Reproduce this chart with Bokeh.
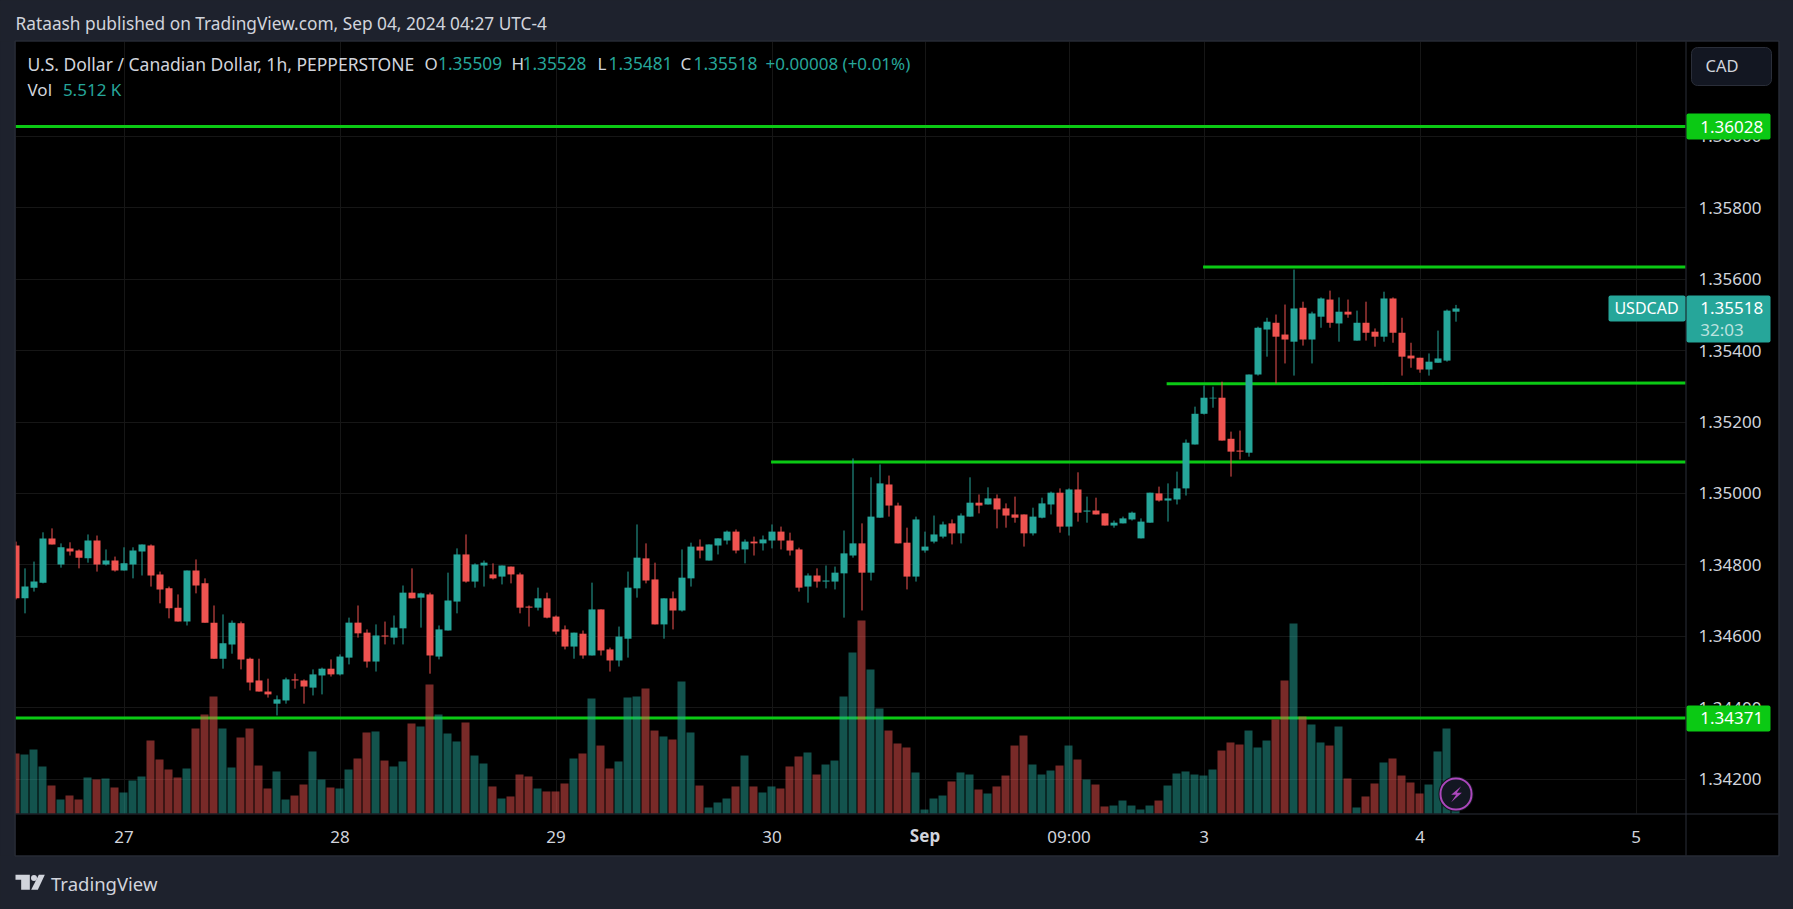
from bokeh.plotting import figure
from bokeh.models import (Range1d, FixedTicker, NumeralTickFormatter, Label, BoxAnnotation,
                          PolyAnnotation, ColumnDataSource, GlobalInlineStyleSheet)
from bokeh.embed import file_html
from bokeh.resources import INLINE
from bokeh.transform import dodge
import numpy as np

# prices in points of 0.00001
open_pts = [134854,134706,134736,134750,134874,134801,134846,134840,134818,134868,
134801,134812,134784,134801,134837,134854,134773,134734,134680,134641,
134784,134748,134638,134537,134577,134636,134537,134476,134445,134411,
134420,134479,134476,134456,134490,134509,134493,134540,134638,134610,
134529,134602,134596,134622,134722,134708,134717,134543,134616,134697,
134829,134753,134798,134773,134767,134795,134773,134683,134680,134706,
134655,134619,134571,134607,134546,134675,134563,134532,134593,134734,
134818,134759,134633,134706,134672,134762,134851,134812,134854,134868,
134893,134843,134865,134860,134868,134893,134868,134843,134739,134770,
134753,134753,134776,134826,134860,134778,134932,135025,134966,134862,
134767,134840,134865,134879,134916,134888,134935,134974,134969,134986,
134958,134941,134941,134888,134932,134969,135002,134907,135011,134949,
134952,134944,134910,134916,134927,134874,134918,135000,134980,134983,
135014,135137,135223,135266,135268,135153,135120,135114,135333,135459,
135478,135445,135425,135520,135431,135495,135543,135476,135509,135428,
135478,135453,135439,135546,135450,135386,135380,135347,135366,135372,
135509]
high_pts = [134865,134790,134809,134891,134902,134860,134863,134843,134885,134882,
134843,134823,134849,134849,134857,134857,134781,134739,134717,134784,
134815,134762,134686,134661,134644,134641,134540,134537,134481,134434,
134484,134495,134479,134507,134512,134535,134549,134652,134686,134619,
134633,134641,134658,134742,134790,134722,134722,134630,134778,134846,
134885,134804,134812,134804,134798,134795,134778,134686,134736,134722,
134658,134630,134610,134616,134750,134675,134568,134627,134781,134913,
134860,134806,134706,134725,134843,134862,134871,134857,134874,134896,
134899,134871,134879,134882,134913,134907,134890,134848,134776,134790,
134798,134795,134896,135098,134916,135045,135081,135050,134974,134904,
134935,134893,134938,134921,134927,134944,135045,134997,135017,134997,
134972,134991,134941,134960,134988,135005,135014,135014,135059,134991,
134988,134944,134924,134935,134949,134930,135002,135019,135028,135061,
135151,135243,135302,135299,135313,135173,135176,135333,135467,135492,
135501,135529,135627,135537,135509,135549,135568,135549,135543,135512,
135537,135462,135565,135549,135492,135422,135380,135392,135456,135515,
135528]
low_pts = [134703,134664,134725,134748,134857,134792,134826,134790,134806,134781,
134798,134781,134784,134762,134770,134739,134692,134650,134641,134630,
134720,134638,134537,134509,134551,134507,134448,134445,134428,134378,
134411,134453,134411,134434,134437,134487,134490,134521,134596,134512,
134501,134577,134577,134577,134706,134624,134495,134535,134616,134664,
134750,134736,134739,134759,134745,134748,134664,134627,134672,134650,
134605,134563,134537,134537,134546,134546,134501,134515,134540,134708,
134748,134633,134593,134619,134669,134739,134818,134812,134829,134857,
134832,134804,134826,134840,134846,134843,134826,134725,134694,134736,
134734,134731,134652,134820,134672,134756,134932,134935,134860,134731,
134753,134834,134860,134874,134857,134860,134935,134944,134969,134902,
134904,134918,134851,134882,134930,134941,134890,134882,134921,134918,
134941,134910,134904,134916,134924,134874,134918,134977,134921,134969,
134994,135137,135221,135240,135148,135047,135095,135103,135330,135383,
135308,135364,135330,135414,135364,135464,135464,135425,135492,135428,
135428,135411,135425,135422,135330,135352,135338,135330,135366,135369,
135481]
close_pts = [134706,134739,134753,134874,134857,134849,134837,134820,134868,134801,
134812,134784,134804,134840,134857,134770,134731,134678,134641,134784,
134742,134638,134537,134580,134638,134535,134470,134445,134437,134423,
134479,134476,134459,134493,134509,134493,134543,134638,134608,134529,
134602,134599,134624,134722,134706,134720,134546,134619,134700,134829,
134753,134801,134806,134762,134798,134773,134680,134680,134706,134652,
134613,134571,134610,134546,134675,134560,134532,134599,134736,134820,
134756,134633,134706,134672,134764,134851,134840,134857,134874,134893,
134840,134865,134860,134871,134893,134868,134840,134736,134770,134753,
134756,134778,134832,134860,134778,134935,135028,134966,134860,134767,
134927,134851,134885,134913,134888,134938,134974,134966,134986,134955,
134938,134932,134888,134935,134972,135002,134907,135011,134946,134952,
134941,134910,134918,134930,134946,134921,135002,134980,134986,135014,
135142,135223,135268,135268,135148,135117,135117,135333,135464,135481,
135439,135431,135518,135431,135504,135546,135478,135509,135501,135478,
135450,135439,135546,135450,135383,135378,135347,135369,135378,135512,
135518]
# volume in thousands
volume_k = [82.8,81.4,88.3,64.9,38.6,19.3,24.8,19.3,49.7,46.9,48.3,35.9,29.0,45.5,51.1,100.7,74.5,60.7,49.7,62.1,
117.3,136.6,161.5,117.3,63.5,104.9,117.3,66.2,34.5,58.0,19.3,24.8,40.0,85.6,46.9,35.9,34.5,60.7,75.9,111.8,
113.2,73.1,64.9,71.8,124.2,120.1,178.0,136.6,110.4,99.4,125.6,80.0,69.0,37.3,20.7,
23.5,53.8,51.1,34.5,30.4,30.4,41.4,75.9,82.8,158.7,93.8,62.1,71.8,160.1,161.5,172.5,114.5,106.3,102.1,182.2,
111.8,38.6,8.3,15.2,20.7,37.3,80.0,37.3,29.0,37.3,34.5,64.9,78.7,84.2,53.8,67.6,73.1,161.5,222.2,266.3,198.7,
144.9,114.5,96.6,91.1,56.6,5.5,20.7,24.8,44.2,56.6,53.8,33.1,27.6,37.3,
52.4,93.8,107.6,67.6,53.8,59.3,66.2,93.8,74.5,46.9,40.0,9.7,11.0,17.9,11.0,5.5,11.0,17.9,38.6,55.2,58.0,53.8,
52.4,60.7,86.9,98.0,95.2,114.5,91.1,100.7,129.7,183.5,262.2,133.9,122.8,98.0,93.8,120.1,48.3,8.3,23.5,41.4,
70.4,75.9,52.4,42.8,27.6,40.0,85.6,117.3,5.512]

price_ticks = [1.342,1.344,1.346,1.348,1.350,1.352,1.354,1.356,1.358,1.360]
time_ticks = [12,36,60,84,101,117,132,156,180]
time_labels = ["27","28","29","30","Sep","09:00","3","4","5"]

# drawn levels: bar index where each starts, price at start and end
level_start = [-0.06,-0.06,83.9,127.85,131.9]
level_p0 = [1.36028,1.34371,1.35088,1.35307,1.35634]
level_p1 = [1.36028,1.34371,1.35088,1.35309,1.35634]
level_end = 185.5
change_text = "+0.00008 (+0.01%)"

BG="#1e222d"; BORDER="#2a2e39"; TXT="#d1d4dc"; UP="#26a69a"; DOWN="#ef5350"; GREEN="#0bc914"; FONT="Noto Sans"
TS=17
W,H=1793,909
n=len(open_pts)
idx=np.arange(n)
o,h,l,c=[np.array(a)/1e5 for a in (open_pts,high_pts,low_pts,close_pts)]
col=[UP if cc>=oo else DOWN for oo,cc in zip(o,c)]
src=ColumnDataSource(dict(i=idx,o=o,h=h,l=l,c=c,top=np.maximum(o,c),bot=np.minimum(o,c),col=col,vol=volume_k))

# the frame covers the whole page; pixel to value mappings of the chart pane
def y_price(Y): return 1.358-(Y+1-208.3)/35700
def x_index(X): return (X-15.5)/9
def y_vol(Y): return (813-Y)*1.38

p=figure(frame_width=W,frame_height=H,output_backend="svg",toolbar_location=None,y_axis_location="right",
         x_range=Range1d(x_index(0),x_index(W)),y_range=Range1d(y_price(H),y_price(0)),
         min_border_left=0,min_border_right=0,min_border_top=0,min_border_bottom=0,
         background_fill_color=BG,border_fill_color=BG,outline_line_color=None,
         stylesheets=[GlobalInlineStyleSheet(css="html,body{background:#1e222d;}")])
p.extra_y_ranges={"vol":Range1d(y_vol(H),y_vol(0))}

def box(x0,y0,x1,y1,fill=None,line=None,lw=1,radius=0,level="annotation"):
    b=BoxAnnotation(left=x0,right=x1,top=y0,bottom=y1,left_units="canvas",right_units="canvas",
        top_units="canvas",bottom_units="canvas",fill_color=fill,fill_alpha=1 if fill else 0,line_color=line,
        line_alpha=1 if line else 0,line_width=lw,border_radius=radius,level=level,editable=False)
    p.add_layout(b); return b
def lab(t,X,Y,color=TXT,size=TS,align="left",weight="normal",alpha=1.0):
    p.add_layout(Label(x=X,y=Y,x_units="canvas",y_units="canvas",text=t,text_color=color,text_alpha=alpha,
        text_font=FONT,text_font_size=f"{size}px",text_align=align,text_baseline="middle",text_font_style=weight))

box(-3,-3,W+3,H+3,fill=BG,level="image")
box(15,41,1778,855,fill="#000000",level="image")

for ax in p.yaxis:
    ax.ticker=FixedTicker(ticks=price_ticks)
    ax.formatter=NumeralTickFormatter(format="0.00000")
    ax.major_tick_line_color=None; ax.minor_tick_line_color=None; ax.axis_line_color=None
    ax.major_label_text_color=TXT; ax.major_label_text_font=FONT; ax.major_label_text_font_size=f"{TS}px"
    ax.major_label_standoff=-101
for ax in p.xaxis:
    ax.ticker=FixedTicker(ticks=time_ticks)
    ax.major_label_overrides={t:("" if s=="Sep" else s) for t,s in zip(time_ticks,time_labels)}
    ax.major_tick_line_color=None; ax.minor_tick_line_color=None; ax.axis_line_color=None
    ax.major_label_text_color=TXT; ax.major_label_text_font=FONT; ax.major_label_text_font_size=f"{TS}px"
    ax.major_label_standoff=-91
p.xgrid.ticker=FixedTicker(ticks=time_ticks); p.ygrid.ticker=FixedTicker(ticks=price_ticks)
p.xgrid.grid_line_color="#161616"; p.ygrid.grid_line_color="#161616"
p.xgrid.cross_bounds=(y_price(813),y_price(41))
p.ygrid.cross_bounds=(x_index(15),x_index(1685))

p.segment(level_start,level_p0,[level_end]*len(level_start),level_p1,line_color=GREEN,line_width=3)
p.vbar(x=dodge("i",-0.5/9,range=p.x_range),width=8/9,top="vol",bottom=0,source=src,y_range_name="vol",
       fill_color="col",fill_alpha=0.5,line_alpha=0)
p.segment("i","l","i","h",source=src,line_color="col",line_width=1)
p.vbar(x="i",width=7/9,top="top",bottom="bot",source=src,fill_color="col",line_alpha=0)

# mask left of the pane, dividers and frame
box(0,41,15,855,fill=BG)
box(1685,41,1686,855,fill=BORDER)
box(15,813,1778,814,fill=BORDER)
box(14.5,40.5,1778.5,855.5,line=BORDER)

# header and legend
lab("Rataash published on TradingView.com, Sep 04, 2024 04:27 UTC-4",15,23,size=17.3)
lab("U.S. Dollar / Canadian Dollar, 1h, PEPPERSTONE",27,63,size=17.5)
for s,xl,v,xv in (("O",424,o[-1],437.6),("H",511,h[-1],522),("L",597,l[-1],608),("C",680,c[-1],693)):
    lab(s,xl,63); lab(f"{v:.5f}",xv,63,color=UP,size=17.3)
lab(change_text,765,63,color=UP)
lab("Vol",27,89); lab(f"{volume_k[-1]:.3f} K",62.4,89,color=UP)

# CAD button
box(1691,47,1771,85,fill="#131722",line=BORDER,radius=6)
lab("CAD",1705,64.5,size=16.5)

# price tags
box(1686,113,1770,139,fill=GREEN,radius=2)
lab(f"{level_p0[0]:.5f}",1699.7,126,color="#ffffff")
box(1686,705,1770,731,fill=GREEN,radius=2)
lab(f"{level_p0[1]:.5f}",1699.7,717.5,color="#ffffff")
box(1608,295,1685,321,fill=UP,radius=2)
lab("USDCAD",1646,307.5,color="#ffffff",size=16,align="center")
box(1686,295,1770,342,fill=UP,radius=2)
lab(f"{c[-1]:.5f}",1699.7,307.5,color="#ffffff")
lab("32:03",1699.7,328.5,color="#ffffff",alpha=0.7)

# month label
p.add_layout(Label(x=101,y=835,x_units="data",y_units="canvas",text="Sep",text_color=TXT,text_font=FONT,
    text_font_size=f"{TS}px",text_align="center",text_baseline="middle",text_font_style="bold"))

# lightning badge
box(1439,777,1472,810,fill="#131722",line="#12141c",lw=2,radius=16)
box(1440,778,1471,809,fill="#131722",line="#ab47bc",lw=2,radius=15)
bx=[1382,1352,1367,1352,1384,1369]; by=[530,556,556,578,550,550]
p.add_layout(PolyAnnotation(xs=[1000+v/3 for v in bx],ys=[609+v/3 for v in by],xs_units="canvas",ys_units="canvas",
    fill_color="#ab47bc",fill_alpha=1,line_alpha=0,editable=False))

# logo
def poly(xs,ys):
    p.add_layout(PolyAnnotation(xs=[v/3 for v in xs],ys=[850+v/3 for v in ys],xs_units="canvas",ys_units="canvas",
        fill_color=TXT,fill_alpha=1,line_alpha=0,editable=False))
poly([45,88,88,62,62,45],[73,73,118,118,88,88])
poly([115,133,112,92],[73,73,118,118])
box(30.5,874.5,36.5,880.5,fill=TXT,radius=3)
lab("TradingView",50.5,883,size=18.5)

open("out.html","w").write(file_html(p,INLINE))
